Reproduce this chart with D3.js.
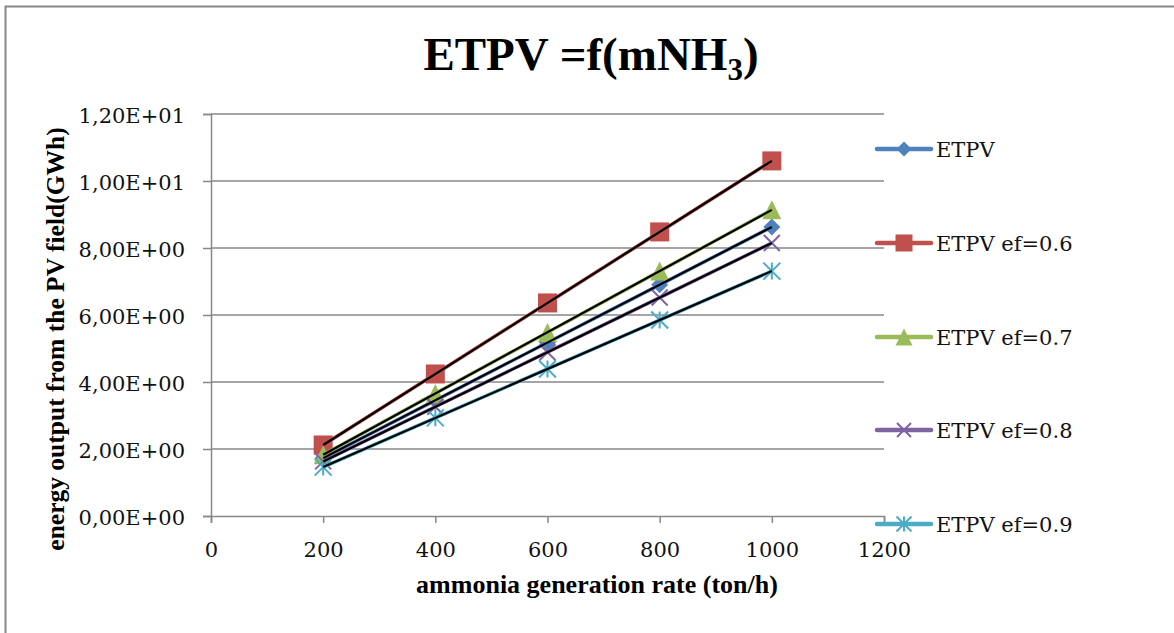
<!DOCTYPE html>
<html>
<head>
<meta charset="utf-8">
<title>ETPV =f(mNH3)</title>
<script src="https://cdn.jsdelivr.net/npm/d3@7"></script>
<style>
  body { margin: 0; background: #fff; }
</style>
</head>
<body>
<div id="chart"></div>
<script>
// data
var rates = [200, 400, 600, 800, 1000];
var names = ["ETPV", "ETPV ef=0.6", "ETPV ef=0.7", "ETPV ef=0.8", "ETPV ef=0.9"];
var etpv   = [1.73, 3.45, 5.18, 6.90, 8.63];
var etpv06 = [2.12, 4.24, 6.36, 8.48, 10.60];
var etpv07 = [1.83, 3.66, 5.48, 7.31, 9.14];
var etpv08 = [1.63, 3.26, 4.89, 6.52, 8.15];
var etpv09 = [1.46, 2.93, 4.39, 5.85, 7.31];
var xTicks = [0, 200, 400, 600, 800, 1000, 1200];
var yTicks = [0, 2, 4, 6, 8, 10, 12];

var series = [etpv, etpv06, etpv07, etpv08, etpv09];
var colors = ["#4F81BD", "#C0504D", "#9BBB59", "#8064A2", "#4BACC6"];
var shapes = ["diamond", "square", "triangle", "cross", "star"];

var W = 1174, H = 633;
var serif = "DejaVu Serif, serif";
var times = "Liberation Serif, Times New Roman, serif";
var svg = d3.select("#chart").append("svg").attr("width", W).attr("height", H);

// outer chart border (right/bottom edges fall outside the picture)
svg.append("rect").attr("x", 5.5).attr("y", 6.5).attr("width", 1200).attr("height", 700)
  .attr("fill", "none").attr("stroke", "#888").attr("stroke-width", 2);

var x = d3.scaleLinear().domain([0, 1200]).range([211, 884]);
var y = d3.scaleLinear().domain([0, 12]).range([516, 114]);

// gridlines
svg.append("g").selectAll("line").data(yTicks.slice(1)).join("line")
  .attr("x1", x(0)).attr("x2", x(1200))
  .attr("y1", d => y(d)).attr("y2", d => y(d))
  .attr("stroke", "#878787").attr("stroke-width", 1.5);

// axes
var fmt = d => d3.format(".2e")(d).replace(".", ",").replace(/e([+-])(\d)$/, "E$10$2").replace("e", "E");
var yAxis = svg.append("g").attr("transform", "translate(" + x(0) + ",0)")
  .call(d3.axisLeft(y).tickValues(yTicks).tickFormat(fmt).tickSize(8).tickPadding(18));
var xAxis = svg.append("g").attr("transform", "translate(0," + y(0) + ")")
  .call(d3.axisBottom(x).tickValues(xTicks).tickFormat(d3.format("d")).tickSize(7).tickPadding(15));
[yAxis, xAxis].forEach(function(a) {
  a.attr("font-family", serif).attr("font-size", 21);
  a.select(".domain").attr("stroke", "#878787").attr("stroke-width", 1.5);
  a.selectAll(".tick line").attr("stroke", "#878787").attr("stroke-width", 1.5);
  a.selectAll(".tick text").attr("font-family", serif).attr("font-size", 21).attr("fill", "#111");
});
yAxis.selectAll(".tick text").attr("dy", "0.42em");
xAxis.selectAll(".tick text").attr("y", 41).attr("dy", 0);

// marker paths
function marker(shape, s) {
  var h = s / 2;
  if (shape == "diamond") return "M0," + (-h) + "L" + h + ",0L0," + h + "L" + (-h) + ",0Z";
  if (shape == "square") return "M" + (-h) + "," + (-h) + "h" + s + "v" + s + "h" + (-s) + "Z";
  if (shape == "triangle") return "M0," + (-h) + "L" + h + "," + h + "L" + (-h) + "," + h + "Z";
  if (shape == "cross") return "M" + (-h) + "," + (-h) + "L" + h + "," + h + "M" + h + "," + (-h) + "L" + (-h) + "," + h;
  return "M" + (-h) + "," + (-h) + "L" + h + "," + h + "M" + h + "," + (-h) + "L" + (-h) + "," + h + "M0," + (-h) + "V" + h;
}
var sizes = { diamond: 17, square: 19, triangle: 19, cross: 16, star: 17 };
function drawMarker(g, shape, color, s) {
  var line = shape == "cross" || shape == "star";
  g.append("path").attr("d", marker(shape, s))
    .attr("fill", line ? "none" : color)
    .attr("stroke", color).attr("stroke-width", line ? 2 : 0);
}

var line = d3.line().x((d, i) => x(rates[i])).y(d => y(d));

// series lines and markers
series.forEach(function(vals, k) {
  svg.append("path").datum(vals).attr("d", line)
    .attr("fill", "none").attr("stroke", colors[k]).attr("stroke-width", 3.5);
  vals.forEach(function(v, i) {
    var g = svg.append("g").attr("transform", "translate(" + x(rates[i]) + "," + y(v) + ")");
    drawMarker(g, shapes[k], colors[k], sizes[shapes[k]]);
  });
});

// linear trendlines (least squares) in black
series.forEach(function(vals) {
  var mx = d3.mean(rates), my = d3.mean(vals);
  var b = d3.sum(rates, (r, i) => (r - mx) * (vals[i] - my)) / d3.sum(rates, r => (r - mx) * (r - mx));
  var a = my - b * mx;
  svg.append("line")
    .attr("x1", x(rates[0])).attr("y1", y(a + b * rates[0]))
    .attr("x2", x(rates[4])).attr("y2", y(a + b * rates[4]))
    .attr("stroke", "#000").attr("stroke-width", 2.2);
});

// legend
var legY = [149, 243, 337, 430, 524];
names.forEach(function(n, k) {
  var g = svg.append("g").attr("transform", "translate(0," + legY[k] + ")");
  g.append("line").attr("x1", 877).attr("x2", 931).attr("y1", 0).attr("y2", 0)
    .attr("stroke", colors[k]).attr("stroke-width", 4.5).attr("stroke-linecap", "round");
  var m = g.append("g").attr("transform", "translate(904,0)");
  drawMarker(m, shapes[k], colors[k], sizes[shapes[k]] - 2);
  g.append("text").attr("x", 936).attr("y", 8).text(n)
    .attr("font-family", serif).attr("font-size", 21).attr("fill", "#111");
});

// title
var t = svg.append("text").attr("x", 591).attr("y", 70).attr("text-anchor", "middle")
  .attr("font-family", times).attr("font-weight", "bold")
  .attr("font-size", 47).attr("fill", "#000");
t.append("tspan").text("ETPV =f(mNH");
t.append("tspan").text("3").attr("font-size", 31).attr("dy", 10);
t.append("tspan").text(")").attr("dy", -10);

// axis titles
svg.append("text").attr("x", 597).attr("y", 593).attr("text-anchor", "middle")
  .attr("font-family", times).attr("font-weight", "bold").attr("font-size", 26)
  .text("ammonia generation rate (ton/h)");
svg.append("text").attr("transform", "translate(64,339) rotate(-90)").attr("text-anchor", "middle")
  .attr("font-family", times).attr("font-weight", "bold").attr("font-size", 25.5)
  .text("energy output from the PV field(GWh)");
</script>
</body>
</html>
